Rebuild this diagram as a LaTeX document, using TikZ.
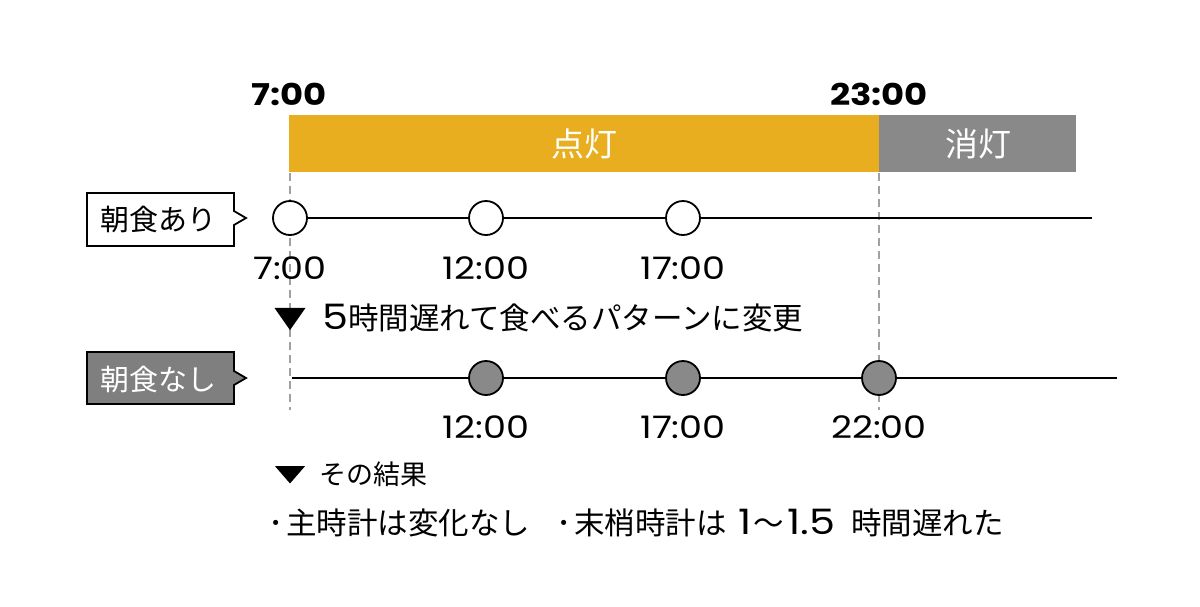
\documentclass[tikz,border=0pt]{standalone}
\usepackage{fontspec}
\usetikzlibrary{shapes.geometric}
\setmainfont{Noto Sans CJK JP}
\newfontfamily\digitfont[FakeStretch=1.18]{Poppins}
\definecolor{litY}{HTML}{E9AE1F}
\definecolor{offG}{HTML}{898989}
\definecolor{boxG}{HTML}{7F7F7F}
\definecolor{dashG}{HTML}{A0A0A0}
\tikzset{
  tlab/.style={font=\digitfont\fontsize{31}{32}\selectfont, inner sep=0pt},
  blab/.style={font=\digitfont\bfseries\fontsize{30}{31}\selectfont, inner sep=0pt},
  meal/.style={circle, draw=black, line width=1.8pt, minimum size=34pt, inner sep=0pt},
  mealon/.style={meal, fill=white},
  mealoff/.style={meal, fill=offG},
  rowline/.style={line width=2.2pt},
  guide/.style={dashG, line width=1.5pt, dash pattern=on 8pt off 5pt},
  bartext/.style={white, font=\fontsize{33}{34}\selectfont},
  note/.style={font=\fontsize{30.5}{31}\selectfont, inner sep=0pt, anchor=west},
  downtri/.style={fill=black, isosceles triangle, shape border rotate=-90, inner sep=0pt},
}
\newcommand{\dg}[1]{{\digitfont\fontsize{35}{36}\selectfont #1}}
\begin{document}
\begin{tikzpicture}[x=1pt,y=-1pt]
\useasboundingbox (0,0) rectangle (1200,606);
\fill[white] (0,0) rectangle (1200,606);
% bar
\fill[litY] (289,115) rectangle (879,172);
\fill[offG] (879,115) rectangle (1076,172);
\node[bartext] (on) at (584,144) {点灯};
\node[bartext] (off) at (978,144) {消灯};
\node[blab] (t7) at (289,94) {7:00};
\node[blab] (t23) at (879,94) {23:00};
% guides
\coordinate (g1a) at (290,173); \coordinate (g1b) at (290,410);
\coordinate (g2a) at (879,173); \coordinate (g2b) at (879,410);
\draw[guide] (g1a) -- (g1b);
\draw[guide] (g2a) -- (g2b);
% row 1
\coordinate (r1s) at (290,218); \coordinate (r1e) at (1092,218);
\draw[rowline] (r1s) -- (r1e);
\node[mealon] (a1) at (290,218) {};
\node[mealon] (a2) at (486,218) {};
\node[mealon] (a3) at (683,218) {};
\node[tlab] (la1) at (290,268) {7:00};
\node[tlab] (la2) at (486,268) {12:00};
\node[tlab] (la3) at (683,268) {17:00};
% callout 1
\draw[line width=1.8pt, fill=white] (87,193) -- (234,193) -- (234,211) -- (246,218) -- (234,225) -- (234,246) -- (87,246) -- cycle;
\node[font=\fontsize{29}{30}\selectfont] (c1) at (158,219) {朝食あり};
% arrow text
\node[downtri, isosceles triangle apex angle=70, minimum width=31pt, minimum height=22pt] (tri1) at (290,316) {};
\node[note] (n1) at (322,318) {\dg{5}時間遅れて食べるパターンに変更};
% row 2
\coordinate (r2s) at (292,378); \coordinate (r2e) at (1117,378);
\draw[rowline] (r2s) -- (r2e);
\node[mealoff] (b1) at (486,378) {};
\node[mealoff] (b2) at (683,378) {};
\node[mealoff] (b3) at (879,378) {};
\node[tlab] (lb1) at (486,427) {12:00};
\node[tlab] (lb2) at (683,427) {17:00};
\node[tlab] (lb3) at (879,427) {22:00};
% callout 2
\draw[line width=1.8pt, fill=boxG] (87,352) -- (234,352) -- (234,371) -- (246,378) -- (234,385) -- (234,404) -- (87,404) -- cycle;
\node[white, font=\fontsize{29}{30}\selectfont] (c2) at (158,379) {朝食なし};
% result
\node[downtri, isosceles triangle apex angle=82, minimum width=30pt, minimum height=17pt] (tri2) at (290,473) {};
\node[note, font=\fontsize{27}{28}\selectfont] (n2) at (319,474) {その結果};
\node[note] (n3) at (265,523) {\makebox[21pt]{･}主時計は変化なし\hspace{23pt}\makebox[21pt]{･}末梢時計は\hspace{12pt}\dg{1}\hspace{2pt}〜\hspace{3pt}\dg{1.5}\hspace{16pt}時間遅れた};
\end{tikzpicture}
\end{document}
